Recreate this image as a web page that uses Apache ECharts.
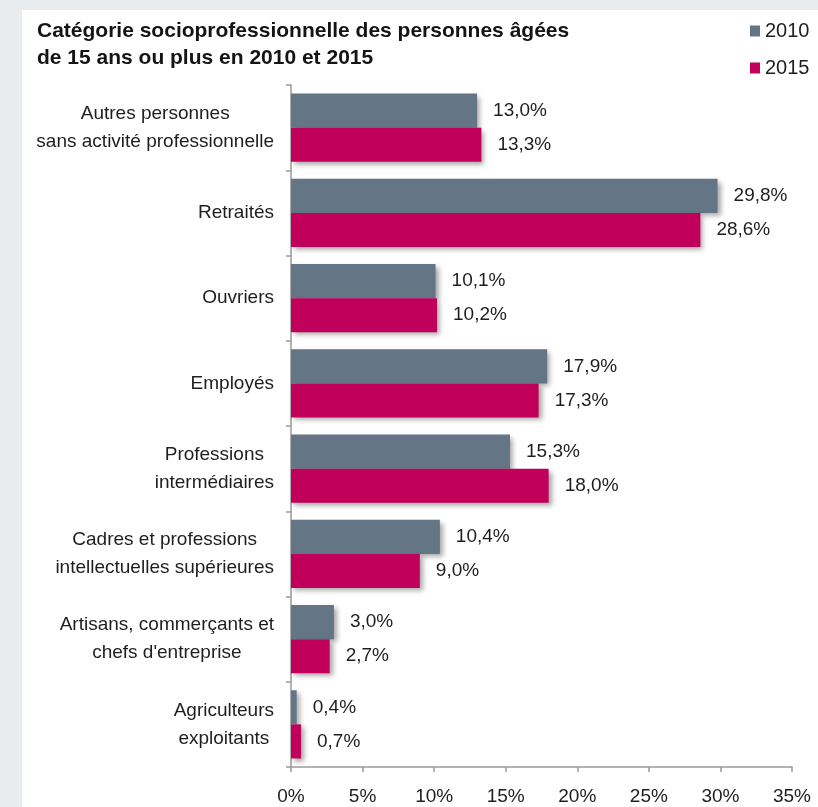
<!DOCTYPE html>
<html>
<head>
<meta charset="utf-8">
<style>
  html, body { margin: 0; padding: 0; background: #e9ecef; }
  #chart { width: 818px; height: 807px; }
</style>
<script src="https://cdn.jsdelivr.net/npm/echarts@6/dist/echarts.min.js"></script>
</head>
<body>
<div id="chart"></div>
<script>
// Catégories (du haut vers le bas)
const categories = [
  'Autres personnes\nsans activité professionnelle',
  'Retraités',
  'Ouvriers',
  'Employés',
  'Professions\nintermédiaires',
  'Cadres et professions\nintellectuelles supérieures',
  'Artisans, commerçants et\nchefs d\'entreprise',
  'Agriculteurs\nexploitants'
];
// Parts en % de la population de 15 ans ou plus
const values2010 = [13.0, 29.8, 10.1, 17.9, 15.3, 10.4, 3.0, 0.4];
const values2015 = [13.3, 28.6, 10.2, 17.3, 18.0, 9.0, 2.7, 0.7];
const xTicks = [0, 5, 10, 15, 20, 25, 30, 35];

const FONT = '"Liberation Sans", Arial, sans-serif';
const GREY = '#647586';
const PINK = '#c0005a';
const TEXT = '#1e1e1e';

const fmtPct = v => v.toFixed(1).replace('.', ',') + '%';

const chart = echarts.init(document.getElementById('chart'));

const barLabel = {
  show: true,
  position: 'right',
  distance: 16,
  fontFamily: FONT,
  fontSize: 19,
  color: TEXT,
  formatter: p => fmtPct(p.value)
};
const barShadow = {
  shadowColor: 'rgba(0,0,0,0.35)',
  shadowBlur: 5,
  shadowOffsetX: 3,
  shadowOffsetY: 3
};

chart.setOption({
  backgroundColor: '#e9ecef',
  animation: false,
  graphic: [{
    type: 'rect',
    z: -10,
    silent: true,
    shape: { x: 22, y: 10, width: 820, height: 820 },
    style: { fill: '#ffffff' }
  }],
  title: {
    text: 'Catégorie socioprofessionnelle des personnes âgées\nde 15 ans ou plus en 2010 et 2015',
    left: 32,
    top: 13,
    textStyle: {
      fontFamily: FONT,
      fontSize: 21,
      fontWeight: 'bold',
      color: '#141414',
      lineHeight: 27
    }
  },
  legend: {
    orient: 'vertical',
    left: 745,
    top: 16,
    itemWidth: 10,
    itemHeight: 11,
    itemGap: 17,
    icon: 'rect',
    textStyle: { fontFamily: FONT, fontSize: 20, color: TEXT },
    data: ['2010', '2015']
  },
  grid: { left: 291, top: 85, right: 26, bottom: 40, containLabel: false },
  xAxis: {
    type: 'value',
    min: 0,
    max: 35,
    interval: 5,
    splitLine: { show: false },
    axisLine: { show: true, lineStyle: { color: '#9a9a9a', width: 1.5 } },
    axisTick: { show: true, length: 5, lineStyle: { color: '#9a9a9a', width: 1.5 } },
    axisLabel: {
      margin: 20,
      fontFamily: FONT,
      fontSize: 19,
      color: TEXT,
      customValues: xTicks,
      formatter: v => v + '%'
    }
  },
  yAxis: {
    type: 'category',
    inverse: true,
    data: categories,
    axisLine: { show: true, lineStyle: { color: '#9a9a9a', width: 1.5 } },
    axisTick: { show: true, length: 5, lineStyle: { color: '#9a9a9a', width: 1.5 } },
    axisLabel: {
      margin: 17,
      align: 'right',
      fontFamily: FONT,
      fontSize: 19,
      color: TEXT,
      lineHeight: 28,
      formatter: v => v.split('\n').map(s => '{c|' + s + '}').join('\n'),
      rich: {
        c: { align: 'center', fontFamily: FONT, fontSize: 19, color: TEXT, lineHeight: 28 }
      }
    }
  },
  series: [
    {
      name: '2010',
      type: 'bar',
      data: values2010,
      barGap: '0%',
      barCategoryGap: '20%',
      itemStyle: Object.assign({ color: GREY }, barShadow),
      label: barLabel
    },
    {
      name: '2015',
      type: 'bar',
      data: values2015,
      barGap: '0%',
      barCategoryGap: '20%',
      itemStyle: Object.assign({ color: PINK }, barShadow),
      label: barLabel
    }
  ]
});
</script>
</body>
</html>
